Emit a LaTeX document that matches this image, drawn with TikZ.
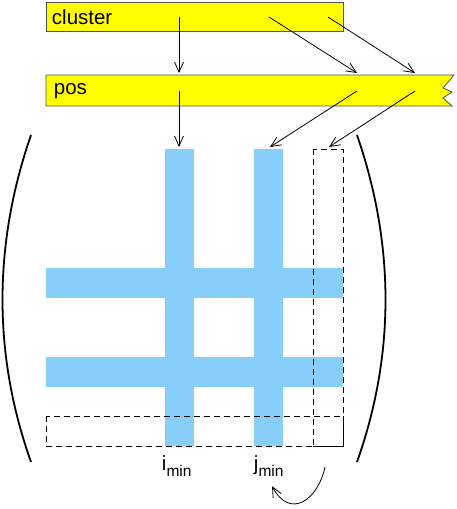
\documentclass[tikz,border=0pt]{standalone}
\usepackage{fontspec}
\setmainfont{Liberation Sans}
\usetikzlibrary{arrows.meta}

\definecolor{bandblue}{RGB}{135,206,250}
\definecolor{boxyellow}{RGB}{255,255,0}
\definecolor{boxgray}{RGB}{80,80,80}

\newcommand{\idxlabel}[1]{#1\raisebox{-6.5pt}{\fontsize{15.5}{18}\selectfont min}}

\tikzset{
  arr/.style={-{Straight Barb[length=10pt,width=9pt]},line width=0.8},
  band/.style={fill=bandblue,draw=none},
  dashbox/.style={dash pattern=on 6pt off 4pt,line width=0.8},
  paren/.style={line width=1.8},
  lbl/.style={anchor=west,inner sep=0.75pt,font=\fontsize{20.5}{24}\selectfont}
}

\begin{document}
\begin{tikzpicture}[x=1pt,y=1pt,yscale=-1,xscale=1]
  \useasboundingbox (0,0) rectangle (457,509);

  %Shape: Rectangle (cluster)
  \draw [fill=boxyellow,draw=boxgray,line width=0.8] (46,2) rectangle (343,31);
  %Shape: Torn rectangle (pos)
  \draw [fill=boxyellow,draw=boxgray,line width=0.8] (46,75) -- (454,75) -- (443,88) -- (452,92) -- (443,98) -- (452,106) -- (46,106) -- cycle;

  % Text Node
  \node [lbl] (cluster) at (51,17) {cluster};
  % Text Node
  \node [lbl] (pos) at (53,91) {pos};

  %Shape: Bands of the matrix
  \fill [band] (165,149) rectangle (194,446);
  \fill [band] (254,149) rectangle (283,446);
  \fill [band] (46,268) rectangle (343,298);
  \fill [band] (46,357) rectangle (343,387);

  %Shape: Dashed column and row
  \draw [dashbox] (313,149) rectangle (343,446);
  \draw [dashbox] (46,416) rectangle (343,446);
  \draw [line width=0.8] (313,446) -- (343,446) -- (343,416);

  %Shape: Brackets
  \draw [paren] (31,135) .. controls (-7,245) and (-7,355) .. (31,462);
  \draw [paren] (357,135) .. controls (395,245) and (395,355) .. (357,462);

  % Coordinates of the arrows
  \coordinate (ci) at (179,17);
  \coordinate (cj) at (269,17);
  \coordinate (ck) at (328,17);
  \coordinate (pi) at (179,91);
  \coordinate (pj) at (357,91);
  \coordinate (pk) at (415,91);
  \coordinate (qi) at (179,73);
  \coordinate (qj) at (357,73);
  \coordinate (qk) at (415,73);
  \coordinate (mi) at (179,147);
  \coordinate (mj) at (270,147);
  \coordinate (mk) at (329,147);

  \draw [arr] (ci) -- (qi);
  \draw [arr] (cj) -- (qj);
  \draw [arr] (ck) -- (qk);
  \draw [arr] (pi) -- (mi);
  \draw [arr] (pj) -- (mj);
  \draw [arr] (pk) -- (mk);

  % Text Node
  \node [lbl,anchor=base west] (imin) at (161,470) {\idxlabel{i}};
  % Text Node
  \node [lbl,anchor=base west] (jmin) at (253,470) {\idxlabel{j}};

  %Curve Lines
  \coordinate (swap) at (325,467);
  \coordinate (swapend) at (272,486);
  \draw [arr] (swap) .. controls (318,500) and (290,520) .. (swapend);
\end{tikzpicture}
\end{document}
